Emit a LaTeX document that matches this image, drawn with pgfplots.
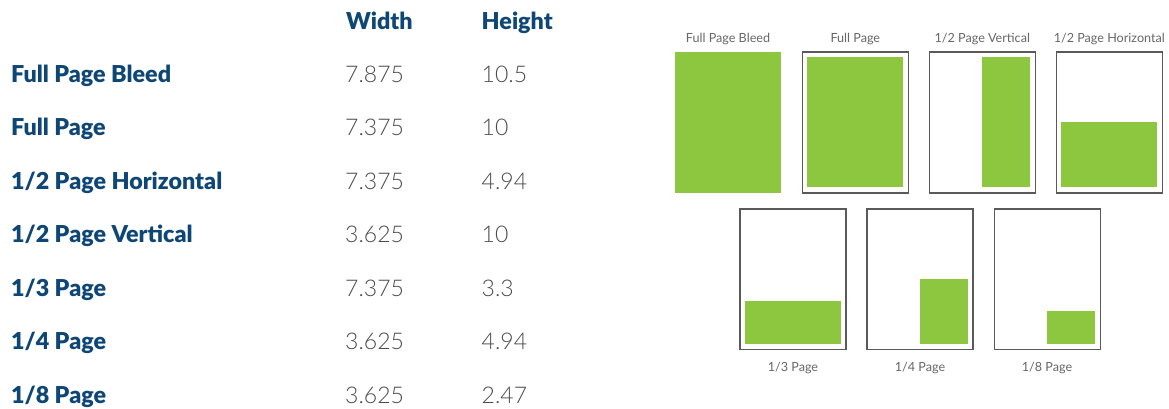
\documentclass[border=0pt]{standalone}
\usepackage{pgfplots}
\pgfplotsset{compat=1.18}
\usepackage{fontspec}
\setmainfont{Lato}
\newfontfamily\heavy{Lato Black}
\newfontfamily\light{Lato Light}
\definecolor{navy}{HTML}{0E4676}
\definecolor{leaf}{HTML}{8DC63F}
\definecolor{numgray}{HTML}{4A4A4A}
\definecolor{boxgray}{HTML}{5A5A5A}
\definecolor{capgray}{HTML}{666666}
\tikzset{
  mylbl/.style={anchor=base west,inner sep=0pt,text=navy,font=\heavy\fontsize{23.3}{27}\selectfont},
  mynum/.style={anchor=base west,inner sep=0pt,text=numgray,font=\light\fontsize{23}{28}\selectfont},
  mycapt/.style={anchor=base,inner sep=0pt,text=capgray,font=\fontsize{12.6}{14}\selectfont},
  mybox/.style={draw=boxgray,line width=1.3pt,line cap=rect,line join=miter},
  myad/.style={fill=leaf,draw=none}}
\begin{document}
\begin{tikzpicture}
\begin{axis}[width=1169pt,height=408pt,scale only axis,
  xmin=0,xmax=1169,ymin=0,ymax=408,y dir=reverse,
  axis lines=none,ticks=none,clip=false]
% page outlines
\addplot[mybox] coordinates {(802.3,52)(908.3,52)(908.3,193)(802.3,193)(802.3,52)};
\addplot[mybox] coordinates {(929.3,52)(1035.3,52)(1035.3,193)(929.3,193)(929.3,52)};
\addplot[mybox] coordinates {(1056.3,52)(1162.3,52)(1162.3,193)(1056.3,193)(1056.3,52)};
\addplot[mybox] coordinates {(740,209)(846,209)(846,349.5)(740,349.5)(740,209)};
\addplot[mybox] coordinates {(867,209)(973,209)(973,349.5)(867,349.5)(867,209)};
\addplot[mybox] coordinates {(994.3,209)(1100.3,209)(1100.3,349.5)(994.3,349.5)(994.3,209)};
% ad areas
\addplot[myad] coordinates {(675,52)(781,52)(781,193)(675,193)};
\addplot[myad] coordinates {(807,57)(903,57)(903,187)(807,187)};
\addplot[myad] coordinates {(982,57)(1030,57)(1030,187)(982,187)};
\addplot[myad] coordinates {(1061,122)(1157,122)(1157,187)(1061,187)};
\addplot[myad] coordinates {(745,301)(841,301)(841,344)(745,344)};
\addplot[myad] coordinates {(920,279)(968,279)(968,344)(920,344)};
\addplot[myad] coordinates {(1047,311)(1095,311)(1095,344)(1047,344)};
% captions
\node[mycapt] at (axis cs:728,42.7) {Full Page Bleed};
\node[mycapt] at (axis cs:855.3,42.7) {Full Page};
\node[mycapt] at (axis cs:982.3,42.7) {1/2 Page Vertical};
\node[mycapt] at (axis cs:1109.3,42.7) {1/2 Page Horizontal};
\node[mycapt] at (axis cs:793,371.7) {1/3 Page};
\node[mycapt] at (axis cs:920,371.7) {1/4 Page};
\node[mycapt] at (axis cs:1047,371.7) {1/8 Page};
% table
\node[mylbl] at (axis cs:346,29.3) {Width};
\node[mylbl] at (axis cs:481.5,29.3) {Height};
\node[mylbl] at (axis cs:11,82.3) {Full Page Bleed};
\node[mylbl] at (axis cs:11,135.8) {Full Page};
\node[mylbl] at (axis cs:11,189.3) {1/2 Page Horizontal};
\node[mylbl] at (axis cs:11,242.8) {1/2 Page Vertical};
\node[mylbl] at (axis cs:11,296.3) {1/3 Page};
\node[mylbl] at (axis cs:11,349.8) {1/4 Page};
\node[mylbl] at (axis cs:11,403.3) {1/8 Page};
\node[mynum] at (axis cs:345,82.3) {7.875};
\node[mynum] at (axis cs:481.5,82.3) {10.5};
\node[mynum] at (axis cs:345,135.8) {7.375};
\node[mynum] at (axis cs:481.5,135.8) {10};
\node[mynum] at (axis cs:345,189.3) {7.375};
\node[mynum] at (axis cs:481.5,189.3) {4.94};
\node[mynum] at (axis cs:345,242.8) {3.625};
\node[mynum] at (axis cs:481.5,242.8) {10};
\node[mynum] at (axis cs:345,296.3) {7.375};
\node[mynum] at (axis cs:481.5,296.3) {3.3};
\node[mynum] at (axis cs:345,349.8) {3.625};
\node[mynum] at (axis cs:481.5,349.8) {4.94};
\node[mynum] at (axis cs:345,403.3) {3.625};
\node[mynum] at (axis cs:481.5,403.3) {2.47};
\end{axis}
\pgfresetboundingbox
\path (0,0) rectangle (1169pt,408pt);
\end{tikzpicture}
\end{document}
